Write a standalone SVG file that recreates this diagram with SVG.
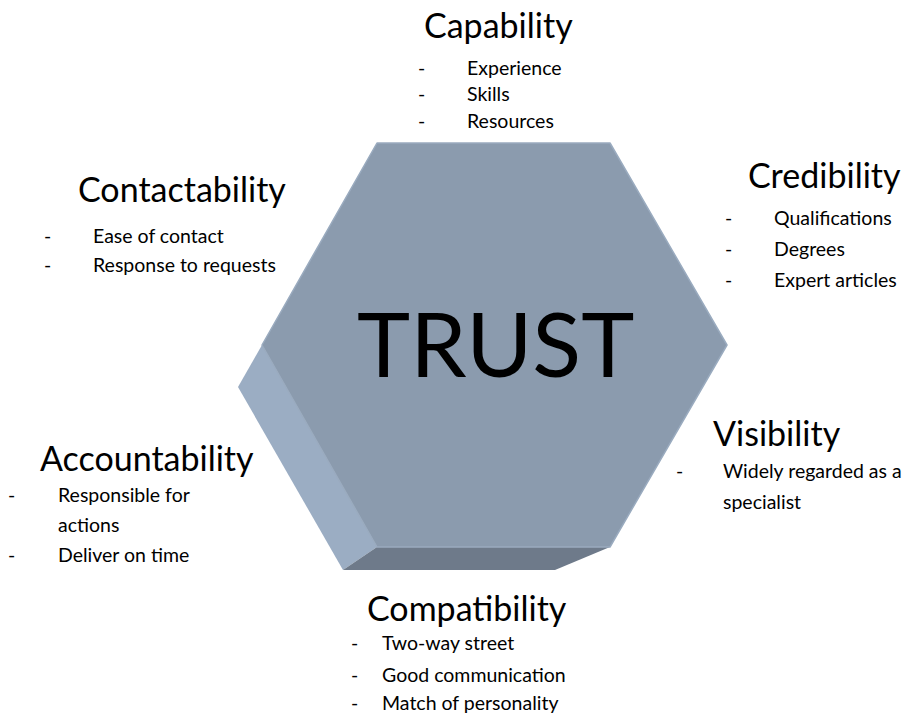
<svg xmlns="http://www.w3.org/2000/svg" width="909" height="724" viewBox="0 0 909 724">
  <style>
    text { font-family: "Lato", "Open Sans", "Liberation Sans", sans-serif; fill: #000; }
    .head { font-size: 34px; }
    .item { font-size: 19.5px; }
    .trust { font-size: 90px; }
    .face { stroke-linejoin: round; }
    .front { fill: #8B9BAE; stroke: #9AABBF; stroke-width: 1.5; }
    .side { fill: #9BADC3; }
    .bottom { fill: #6E7A8A; }
  </style>
  <rect width="909" height="724" fill="#fff"/>

  <!-- bevelled hexagon -->
  <g id="trust">
    <polygon class="face side" points="262,345 377,547 343,570 238,387"/>
    <polygon class="face bottom" points="377,547 610,547 555,570 343,570"/>
    <polygon class="face front" points="377,143 610,143 727,345 610,547 377,547 262,345"/>
    <text class="trust" x="357" y="377">TRUST</text>
  </g>

  <g id="connectors"/>

  <g id="capability">
    <text class="head" x="424" y="38">Capability</text>
    <text class="item" x="418" y="75">-</text>
    <text class="item" x="467" y="75">Experience</text>
    <text class="item" x="418" y="101">-</text>
    <text class="item" x="467" y="101">Skills</text>
    <text class="item" x="418" y="128">-</text>
    <text class="item" x="467" y="128">Resources</text>
  </g>

  <g id="contactability">
    <text class="head" x="78" y="202">Contactability</text>
    <text class="item" x="44" y="243">-</text>
    <text class="item" x="93" y="243">Ease of contact</text>
    <text class="item" x="44" y="272">-</text>
    <text class="item" x="93" y="272">Response to requests</text>
  </g>

  <g id="credibility">
    <text class="head" x="748" y="188">Credibility</text>
    <text class="item" x="725" y="225">-</text>
    <text class="item" x="774" y="225">Qualifications</text>
    <text class="item" x="725" y="256">-</text>
    <text class="item" x="774" y="256">Degrees</text>
    <text class="item" x="725" y="287">-</text>
    <text class="item" x="774" y="287">Expert articles</text>
  </g>

  <g id="visibility">
    <text class="head" x="713" y="446">Visibility</text>
    <text class="item" x="676" y="478">-</text>
    <text class="item" x="723" y="478">Widely regarded as a</text>
    <text class="item" x="723" y="509">specialist</text>
  </g>

  <g id="accountability">
    <text class="head" x="40" y="471">Accountability</text>
    <text class="item" x="8" y="502">-</text>
    <text class="item" x="58" y="502">Responsible for</text>
    <text class="item" x="58" y="532">actions</text>
    <text class="item" x="8" y="562">-</text>
    <text class="item" x="58" y="562">Deliver on time</text>
  </g>

  <g id="compatibility">
    <text class="head" x="367" y="621">Compatibility</text>
    <text class="item" x="351" y="650">-</text>
    <text class="item" x="382" y="650">Two-way street</text>
    <text class="item" x="351" y="682">-</text>
    <text class="item" x="382" y="682">Good communication</text>
    <text class="item" x="351" y="710">-</text>
    <text class="item" x="382" y="710">Match of personality</text>
  </g>
</svg>
